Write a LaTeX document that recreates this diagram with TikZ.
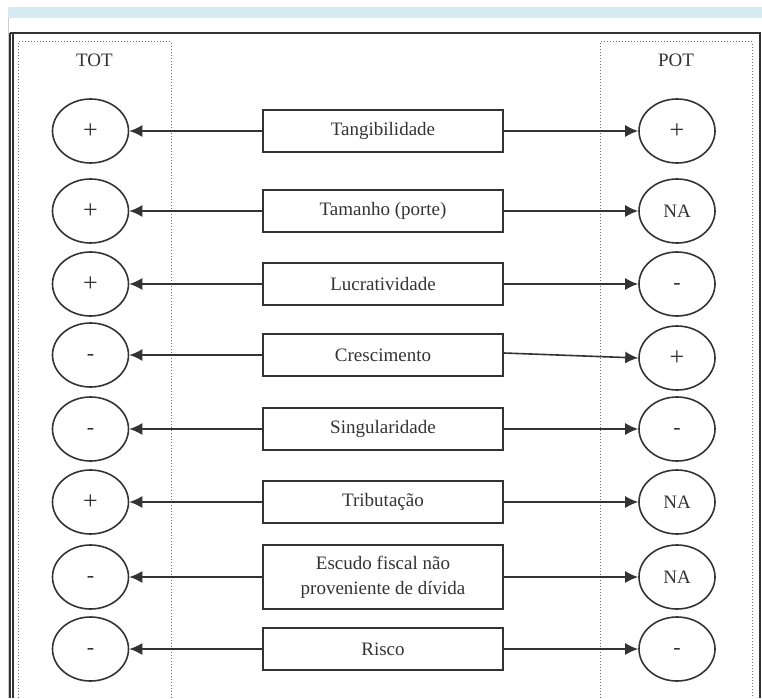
\documentclass[tikz,border=0pt]{standalone}
\usepackage{fontspec}
\setmainfont{Liberation Serif}
\usepackage{xcolor}
\usetikzlibrary{arrows.meta,shapes.geometric}
\definecolor{traco}{HTML}{333333}
\definecolor{faixa}{HTML}{D6EAF1}
\newcommand{\mais}{{\fontsize{26}{26}\selectfont +}}
\tikzset{
  sinal/.style={ellipse,draw=traco,line width=1.6pt,minimum width=76pt,minimum height=64pt,inner sep=0pt,text=traco},
  menos/.style={sinal,font=\fontsize{22}{22}\selectfont,text height=10pt,text depth=0pt},
  fator/.style={rectangle,draw=traco,line width=1.6pt,minimum width=240pt,minimum height=42pt,align=center,text=traco},
  liga/.style={line width=1.6pt,draw=traco,-{Latex[length=13pt,width=12pt]}},
  coluna/.style={draw=traco!70,line width=1pt,dotted}
}

\begin{document}
\begin{tikzpicture}[x=1pt,y=-1pt,font=\fontsize{19}{25}\selectfont]
  \useasboundingbox (0,0) rectangle (762,698);
  % faixa azul e moldura
  \fill[faixa] (8,7) rectangle (762,18);
  \draw[gray!40,line width=0.6pt] (8,18) -- (8,698);
  \draw[traco,line width=1.8pt] (10,33) -- (760,33) -- (760,698);
  \draw[traco,line width=1.2pt] (10,33) -- (10,698);
  \draw[traco,line width=1.2pt] (13,34) -- (13,698);
  % colunas TOT e POT
  \draw[coluna] (18,698) -- (18,42) -- (171,42) -- (171,698);
  \draw[coluna] (600,698) -- (600,42) -- (752,42) -- (752,698);
  \node[text=traco] (tot) at (94.5,60) {TOT};
  \node[text=traco] (pot) at (676,60) {POT};
  % fatores
  \node[fator] (b1) at (383,131) {Tangibilidade};
  \node[fator] (b2) at (383,211) {Tamanho (porte)};
  \node[fator] (b3) at (383,284) {Lucratividade};
  \node[fator] (b4) at (383,355) {Crescimento};
  \node[fator] (b5) at (383,429) {Singularidade};
  \node[fator] (b6) at (383,502) {Tributação};
  \node[fator,minimum height=64pt] (b7) at (383,577) {Escudo fiscal não\\proveniente de dívida};
  \node[fator] (b8) at (383,649) {Risco};
  % sinais TOT
  \node[sinal] (t1) at (90.5,131) {\mais};
  \node[sinal] (t2) at (90.5,211) {\mais};
  \node[sinal] (t3) at (90.5,284) {\mais};
  \node[menos] (t4) at (90.5,355) {-};
  \node[menos] (t5) at (90.5,429) {-};
  \node[sinal] (t6) at (90.5,502) {\mais};
  \node[menos] (t7) at (90.5,577) {-};
  \node[menos] (t8) at (90.5,649) {-};
  % sinais POT
  \node[sinal] (p1) at (677,131) {\mais};
  \node[sinal] (p2) at (677,211) {NA};
  \node[menos] (p3) at (677,284) {-};
  \node[sinal] (p4) at (677,358) {\mais};
  \node[menos] (p5) at (677,429) {-};
  \node[sinal] (p6) at (677,502) {NA};
  \node[sinal] (p7) at (677,577) {NA};
  \node[menos] (p8) at (677,649) {-};
  % setas
  \draw[liga] (b1.west) -- (t1.east);
  \draw[liga] (b2.west) -- (t2.east);
  \draw[liga] (b3.west) -- (t3.east);
  \draw[liga] (b4.west) -- (t4.east);
  \draw[liga] (b5.west) -- (t5.east);
  \draw[liga] (b6.west) -- (t6.east);
  \draw[liga] (b7.west) -- (t7.east);
  \draw[liga] (b8.west) -- (t8.east);
  \draw[liga] (b1.east) -- (p1.west);
  \draw[liga] (b2.east) -- (p2.west);
  \draw[liga] (b3.east) -- (p3.west);
  \draw[liga] ([yshift=2pt]b4.east) -- (p4.west);
  \draw[liga] (b5.east) -- (p5.west);
  \draw[liga] (b6.east) -- (p6.west);
  \draw[liga] (b7.east) -- (p7.west);
  \draw[liga] (b8.east) -- (p8.west);
\end{tikzpicture}
\end{document}
